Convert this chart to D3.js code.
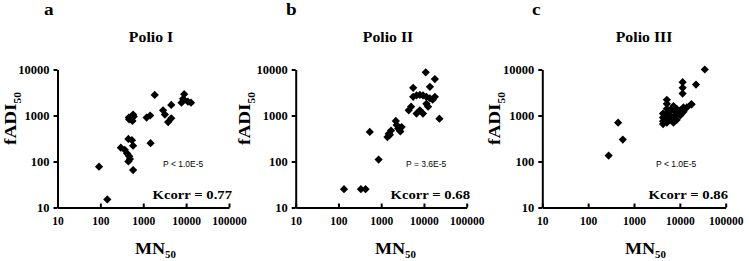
<!DOCTYPE html>
<html>
<head>
<meta charset="utf-8">
<script src="https://cdn.jsdelivr.net/npm/d3@7"></script>
<style>
  body { margin: 0; background: #fff; }
  svg { display: block; }
  .axis path, .axis line { stroke: #000; stroke-width: 2; }
  .axis text { font-family: "Liberation Serif", "Times New Roman", serif; font-weight: bold; fill: #000; }
  .yaxis text { font-size: 12.5px; }
  .xaxis text { font-size: 11.5px; }
  .serif { font-family: "Liberation Serif", "Times New Roman", serif; font-weight: bold; fill: #000; }
  .pval { font-family: "Liberation Sans", Arial, sans-serif; font-size: 8.5px; fill: #000; }
</style>
</head>
<body>
<svg id="viz" width="749" height="261"></svg>
<script>
// values (MN50, fADI50)
const polio1MN  = [93, 145, 300, 370, 420, 470, 490, 450, 580, 450, 545, 580, 460, 580, 560, 470, 600, 1480, 1200, 1450, 1850, 2900, 3200, 3800, 4500, 4500, 7800, 8500, 9000, 11000, 13000];
const polio1ADI = [77, 15, 200, 180, 150, 130, 113, 100, 65, 310, 290, 220, 900, 1050, 760, 820, 950, 250, 900, 1000, 2800, 1300, 1050, 720, 870, 1700, 1900, 2300, 2900, 2000, 1900];

const polio2MN  = [135, 335, 430, 540, 870, 1400, 1500, 1700, 2200, 2300, 2800, 3000, 1600, 2500, 4400, 5000, 5600, 5600, 6700, 6700, 8000, 8000, 9500, 9500, 11000, 11400, 11400, 12500, 13800, 13800, 18000, 18000, 23000, 16000];
const polio2ADI = [25, 25, 25, 440, 110, 340, 400, 470, 760, 620, 450, 560, 380, 520, 1300, 1550, 4000, 2550, 1100, 2750, 2800, 1300, 2750, 1100, 8700, 2550, 1800, 1550, 4200, 2350, 6200, 2550, 850, 2200];

const polio3MN  = [280, 450, 570, 35000, 22500, 11500, 11500, 11500, 18000, 4300, 4300, 4300, 4300, 5200, 5200, 5200, 5200, 5200, 5200, 6150, 6150, 6150, 7250, 7250, 7250, 7250, 8500, 8500, 8500, 10200, 10200, 12000, 12000, 14200, 17700];
const polio3ADI = [135, 700, 300, 10000, 4700, 5300, 4000, 3000, 1750, 1100, 900, 750, 650, 2200, 1800, 1400, 1100, 850, 700, 1300, 1000, 800, 700, 900, 1300, 1600, 1100, 800, 1400, 1300, 1000, 1500, 1200, 1500, 1750];

const xTicks = [10, 100, 1000, 10000, 100000];
const yTicks = [10, 100, 1000, 10000];
const letters = ["a", "b", "c"];
const titles = ["Polio I", "Polio II", "Polio III"];
const kcorrs = ["Kcorr = 0.77", "Kcorr = 0.68", "Kcorr = 0.86"];
const pvals = ["P < 1.0E-5", "P = 3.6E-5", "P < 1.0E-5"];

// layout of each panel (pixels)
const layout = [
  { x0: 57.5, x1: 229,   letterX: 44,  titleX: 151, ylabX: 16,  kEnd: 232, pX: 163, mnX: 135 },
  { x0: 295.7, x1: 466.7, letterX: 286, titleX: 388, ylabX: 250, kEnd: 470, pX: 406, mnX: 375 },
  { x0: 542.3, x1: 725.7, letterX: 532, titleX: 644, ylabX: 500, kEnd: 728, pX: 656, mnX: 625 }
];
const series = [[polio1MN, polio1ADI], [polio2MN, polio2ADI], [polio3MN, polio3ADI]];

const yTop = 69.5, yBottom = 207.5;
const stretch = 1.13;

function label(g, x, y, rot, size, main, sub, anchor) {
    let t = g.append("text")
        .classed("serif", true)
        .attr("transform", `translate(${x},${y}) rotate(${rot}) scale(${stretch},1)`)
        .attr("font-size", size)
        .attr("text-anchor", anchor || "start");
    t.append("tspan").text(main);
    if (sub) {
        t.append("tspan").attr("font-size", size * 0.6).attr("dy", size * 0.28).text(sub);
    }
    return t;
}

function drawPanel(svg, i) {
    let L = layout[i];
    let g = svg.append("g").attr("id", "panel_" + letters[i]);

    let x = d3.scaleLog().domain([10, 100000]).range([L.x0, L.x1]);
    let y = d3.scaleLog().domain([10, 10000]).range([yBottom, yTop]);

    g.append("g").attr("class", "axis yaxis")
        .attr("transform", `translate(${L.x0},0)`)
        .call(d3.axisLeft(y).tickValues(yTicks).tickFormat(d3.format("d"))
            .tickSizeInner(4).tickSizeOuter(0).tickPadding(4));

    g.append("g").attr("class", "axis xaxis")
        .attr("transform", `translate(0,${yBottom})`)
        .call(d3.axisBottom(x).tickValues(xTicks).tickFormat(d3.format("d"))
            .tickSizeInner(-4).tickSizeOuter(0).tickPadding(9));

    let mn = series[i][0], adi = series[i][1];
    let diamond = d3.symbol(d3.symbolSquare, 34);
    g.append("g").selectAll("path")
        .data(mn.map((d, k) => [d, adi[k]]))
        .join("path")
        .attr("d", diamond)
        .attr("transform", d => `translate(${x(d[0])},${y(d[1])}) rotate(45)`)
        .attr("fill", "#000");

    label(g, L.letterX, 15, 0, 17, letters[i]);
    label(g, L.titleX, 42.3, 0, 14, titles[i], null, "middle");
    label(g, L.kEnd, 199, 0, 13, kcorrs[i], null, "end");
    label(g, L.mnX, 254, 0, 16, "MN", "50");
    label(g, L.ylabX, 145, -90, 17, "fADI", "50");

    g.append("text").classed("pval", true)
        .attr("x", L.pX).attr("y", 166.5)
        .text(pvals[i]);
}

let svg = d3.select("#viz");
for (let i = 0; i < 3; i++) drawPanel(svg, i);
</script>
</body>
</html>
